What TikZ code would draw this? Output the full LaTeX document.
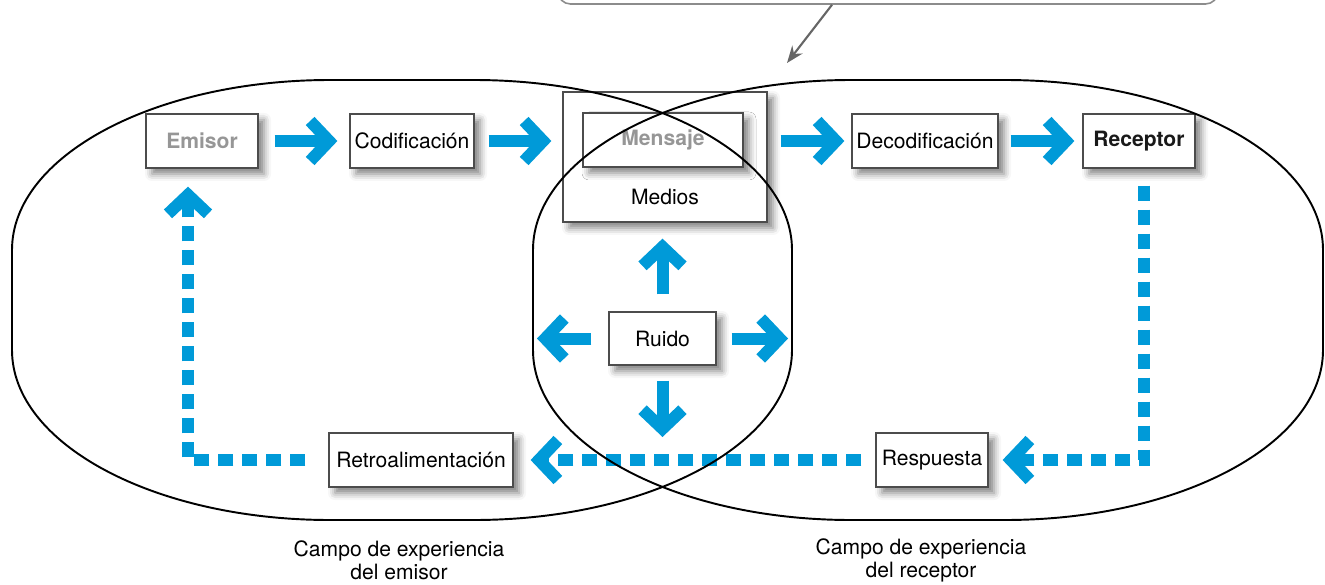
\documentclass[tikz,border=0pt]{standalone}
\usepackage{fontspec}
\setmainfont{TeX Gyre Heros}
\usetikzlibrary{arrows.meta,shadows.blur}

\definecolor{flowblue}{RGB}{0,154,216}
\definecolor{softgray}{RGB}{150,150,150}
\newcommand\lbl{\fontsize{12}{13}\selectfont}

\tikzset{
  caja/.style={draw=black!70, line width=0.7pt, fill=white, inner sep=0pt,
    minimum height=1.08cm, font=\lbl,
    blur shadow={shadow xshift=0.12cm, shadow yshift=-0.12cm,
      shadow blur radius=0.14cm, shadow opacity=50}},
  flecha/.style={draw=flowblue, line width=0.24cm,
    -{Straight Barb[length=0.38cm, width=0.8cm]}},
  punteada/.style={flecha, dash pattern=on 0.3cm off 0.18cm},
  campo/.style={line width=1.1pt},
}

\begin{document}
\begin{tikzpicture}
  \useasboundingbox (0,0) rectangle (26.5,11.68);

  % callout at the top (cut by the page)
  \node[draw=black!45, line width=0.9pt, rounded corners=0.25cm,
    minimum width=13.2cm, minimum height=1.2cm] (nota) at (17.76,12.2) {};
  \coordinate (punta) at (15.74,10.42);
  \draw[black!60, line width=1.2pt, -{Stealth[length=0.34cm, width=0.26cm]}]
    ([xshift=-1.12cm]nota.south) -- (punta);

  % boxes
  \node[caja, minimum width=2.24cm, text=softgray, font=\lbl\bfseries] (emisor) at (4.04,8.86) {Emisor};
  \node[caja, minimum width=2.48cm] (codif) at (8.24,8.86) {Codificación};
  \node[caja, minimum width=4.08cm, minimum height=2.6cm] (medios) at (13.30,8.54) {};
  \node[caja, minimum width=3.2cm, text=softgray, font=\lbl\bfseries] (mensaje) at (13.26,8.88) {Mensaje};
  \node[font=\lbl] (mediostxt) at (13.30,7.74) {Medios};
  \node[caja, minimum width=2.92cm] (decod) at (18.50,8.86) {Decodificación};
  \node[caja, minimum width=2.24cm, text=black!90, font=\lbl\bfseries] (receptor) at (22.78,8.86) {Receptor};
  \node[caja, minimum width=2.14cm, minimum height=1.06cm] (ruido) at (13.25,4.91) {Ruido};
  \node[caja, minimum width=3.68cm] (retro) at (8.42,2.48) {Retroalimentación};
  \node[caja, minimum width=2.24cm] (resp) at (18.64,2.48) {Respuesta};

  % main flow
  \draw[flecha, shorten <=0.32cm, shorten >=0.24cm] (emisor) -- (codif);
  \draw[flecha, shorten <=0.28cm, shorten >=0.22cm] (codif.east) -- (codif.east -| medios.west);
  \draw[flecha, shorten <=0.26cm, shorten >=0.14cm] (medios.east |- decod.west) -- (decod.west);
  \draw[flecha, shorten <=0.24cm, shorten >=0.16cm] (decod) -- (receptor);

  % noise
  \coordinate (rizq) at (10.74,4.91);
  \coordinate (rder) at (15.76,4.91);
  \coordinate (rbaj) at (13.25,2.94);
  \draw[flecha, shorten <=0.34cm, shorten >=0.32cm] (ruido.north) -- (ruido.north |- medios.south);
  \draw[flecha, shorten <=0.34cm] (ruido.west) -- (rizq);
  \draw[flecha, shorten <=0.30cm] (ruido.east) -- (rder);
  \draw[flecha, shorten <=0.30cm] (ruido.south) -- (rbaj);

  % feedback
  \coordinate (c1) at (22.88,2.48);
  \coordinate (c2) at (3.76,2.48);
  \draw[punteada, shorten <=0.34cm, shorten >=0.28cm] (receptor.south -| c1) -- (c1) -- (resp);
  \draw[punteada, shorten <=0.28cm, shorten >=0.34cm] (resp) -- (retro);
  \draw[punteada, shorten <=0.46cm, shorten >=0.36cm] (retro) -- (c2) -- (emisor.south -| c2);

  % fields of experience
  \draw[campo] (0.24,4.68) -- (0.24,6.68)
    arc[start angle=180, end angle=90, x radius=6.36cm, y radius=3.4cm] -- ++(2.88,0)
    arc[start angle=90, end angle=0, x radius=6.36cm, y radius=3.4cm] -- ++(0,-2)
    arc[start angle=0, end angle=-90, x radius=6.36cm, y radius=3.4cm] -- ++(-2.88,0)
    arc[start angle=-90, end angle=-180, x radius=6.36cm, y radius=3.4cm] -- cycle;
  \draw[campo] (10.66,4.68) -- (10.66,6.68)
    arc[start angle=180, end angle=90, x radius=6.36cm, y radius=3.4cm] -- ++(3.08,0)
    arc[start angle=90, end angle=0, x radius=6.36cm, y radius=3.4cm] -- ++(0,-2)
    arc[start angle=0, end angle=-90, x radius=6.36cm, y radius=3.4cm] -- ++(-3.08,0)
    arc[start angle=-90, end angle=-180, x radius=6.36cm, y radius=3.4cm] -- cycle;

  \node[font=\lbl, align=center] (campoemi) at (7.98,0.48) {Campo de experiencia\\del emisor};
  \node[font=\lbl, align=center] (camporec) at (18.42,0.48) {Campo de experiencia\\del receptor};
\end{tikzpicture}
\end{document}
